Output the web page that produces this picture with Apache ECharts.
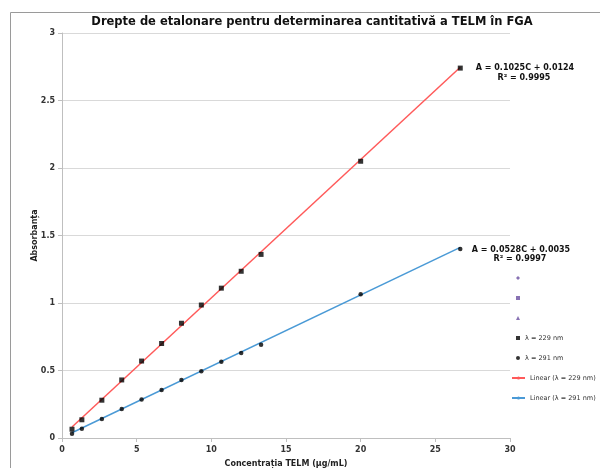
<!DOCTYPE html>
<html>
<head>
<meta charset="utf-8">
<script src="https://cdn.jsdelivr.net/npm/echarts@6/dist/echarts.min.js"></script>
<style>html,body{margin:0;padding:0;background:#fff;}#c{width:600px;height:468px;}</style>
</head>
<body>
<div id="c"></div>
<script>
var conc = [0.67, 1.33, 2.67, 4, 5.33, 6.67, 8, 9.33, 10.67, 12, 13.33, 20, 26.67];
var abs229 = [0.065, 0.135, 0.28, 0.43, 0.57, 0.70, 0.85, 0.985, 1.11, 1.235, 1.36, 2.05, 2.74];
var abs291 = [0.032, 0.068, 0.14, 0.215, 0.285, 0.355, 0.43, 0.495, 0.565, 0.63, 0.69, 1.065, 1.40];
var trend229 = [[0.67, 0.081], [26.67, 2.746]];
var trend291 = [[0.67, 0.039], [26.67, 1.412]];
var eq229 = ['A = 0.1025C + 0.0124', 'R² = 0.9995'];
var eq291 = ['A = 0.0528C + 0.0035', 'R² = 0.9997'];
var yTicks = [0, 0.5, 1, 1.5, 2, 2.5, 3];
var xTicks = [0, 5, 10, 15, 20, 25, 30];

function pairs(xs, ys) { return xs.map(function (x, i) { return [x, ys[i]]; }); }

var FONT = 'DejaVu Sans';
var chart = echarts.init(document.getElementById('c'));
chart.setOption({
  animation: false,
  textStyle: { fontFamily: FONT },
  title: {
    text: 'Drepte de etalonare pentru determinarea cantitativă a TELM în FGA',
    left: 312, top: 16, textAlign: 'center', padding: 0,
    textStyle: { fontFamily: FONT, fontSize: 11.5, fontWeight: 'bold', color: '#111' }
  },
  grid: { left: 62, right: 90, top: 33, bottom: 30, containLabel: false, outerBoundsMode: 'none' },
  xAxis: {
    type: 'value', min: 0, max: 30, interval: 5,
    name: 'Concentrația TELM (µg/mL)', nameLocation: 'middle', nameGap: 22,
    nameTextStyle: { fontFamily: FONT, fontSize: 8, fontWeight: 'bold', color: '#222' },
    axisLine: { show: true, lineStyle: { color: '#bfbfbf' } },
    axisTick: { show: true, length: 4, lineStyle: { color: '#bfbfbf' } },
    axisLabel: { fontFamily: FONT, fontSize: 8, fontWeight: 'bold', color: '#333', margin: 8,
      formatter: function (v) { return xTicks.indexOf(v) >= 0 ? String(v) : ''; } },
    splitLine: { show: false }
  },
  yAxis: {
    type: 'value', min: 0, max: 3, interval: 0.5,
    name: 'Absorbanța', nameLocation: 'middle', nameGap: 23, nameMoveOverlap: false,
    nameTextStyle: { fontFamily: FONT, fontSize: 8, fontWeight: 'bold', color: '#222' },
    axisLine: { show: true, lineStyle: { color: '#bfbfbf' } },
    axisTick: { show: true, length: 4, lineStyle: { color: '#bfbfbf' } },
    axisLabel: { fontFamily: FONT, fontSize: 8, fontWeight: 'bold', color: '#333', margin: 7,
      formatter: function (v) { return yTicks.indexOf(v) >= 0 ? String(v) : ''; } },
    splitLine: { show: true, lineStyle: { color: '#d9d9d9' } }
  },
  legend: [{
    orient: 'vertical', left: 516, top: 268, padding: 0, itemWidth: 4, itemHeight: 4, itemGap: 0,
    textStyle: { fontFamily: FONT, fontSize: 6.5, color: '#333', lineHeight: 20, height: 20 },
    data: [
      { name: ' ', icon: 'diamond' },
      { name: '  ', icon: 'rect' },
      { name: '   ', icon: 'triangle' },
      { name: 'λ = 229 nm', icon: 'rect' },
      { name: 'λ = 291 nm', icon: 'circle' }
    ]
  }, {
    orient: 'vertical', left: 511, top: 368, padding: 0, itemWidth: 13, itemHeight: 4, itemGap: 0,
    textStyle: { fontFamily: FONT, fontSize: 6.5, color: '#333', lineHeight: 20, height: 20 },
    data: ['Linear (λ = 229 nm)', 'Linear (λ = 291 nm)']
  }],
  graphic: [
    { type: 'rect', shape: { x: 10.5, y: 12.5, width: 620, height: 480 }, style: { fill: 'none', stroke: '#9a9a9a', lineWidth: 1 }, silent: true, z: -1 },
    { type: 'text', x: 525, y: 64, style: { text: eq229[0], textAlign: 'center', font: 'bold 8px "DejaVu Sans"', fill: '#111' } },
    { type: 'text', x: 524, y: 74, style: { text: eq229[1], textAlign: 'center', font: 'bold 8px "DejaVu Sans"', fill: '#111' } },
    { type: 'text', x: 521, y: 246, style: { text: eq291[0], textAlign: 'center', font: 'bold 8px "DejaVu Sans"', fill: '#111' } },
    { type: 'text', x: 520, y: 255, style: { text: eq291[1], textAlign: 'center', font: 'bold 8px "DejaVu Sans"', fill: '#111' } }
  ],
  series: [
    { name: ' ', type: 'scatter', symbol: 'diamond', symbolSize: 4, itemStyle: { color: '#6a4fa0' }, data: [] },
    { name: '  ', type: 'scatter', symbol: 'rect', symbolSize: 4, itemStyle: { color: '#6a4fa0' }, data: [] },
    { name: '   ', type: 'scatter', symbol: 'triangle', symbolSize: 4, itemStyle: { color: '#6a4fa0' }, data: [] },
    { name: 'Linear (λ = 229 nm)', type: 'line', symbol: 'none', showSymbol: false, z: 1,
      lineStyle: { color: '#ff5a5a', width: 1.5 }, itemStyle: { color: '#ff5a5a' }, data: trend229 },
    { name: 'Linear (λ = 291 nm)', type: 'line', symbol: 'none', showSymbol: false, z: 1,
      lineStyle: { color: '#4a9ad6', width: 1.5 }, itemStyle: { color: '#4a9ad6' }, data: trend291 },
    { name: 'λ = 229 nm', type: 'scatter', symbol: 'rect', symbolSize: 5, z: 3, itemStyle: { color: '#000' }, data: pairs(conc, abs229) },
    { name: 'λ = 291 nm', type: 'scatter', symbol: 'circle', symbolSize: 4.5, z: 3, itemStyle: { color: '#000' }, data: pairs(conc, abs291) }
  ]
});
</script>
</body>
</html>
